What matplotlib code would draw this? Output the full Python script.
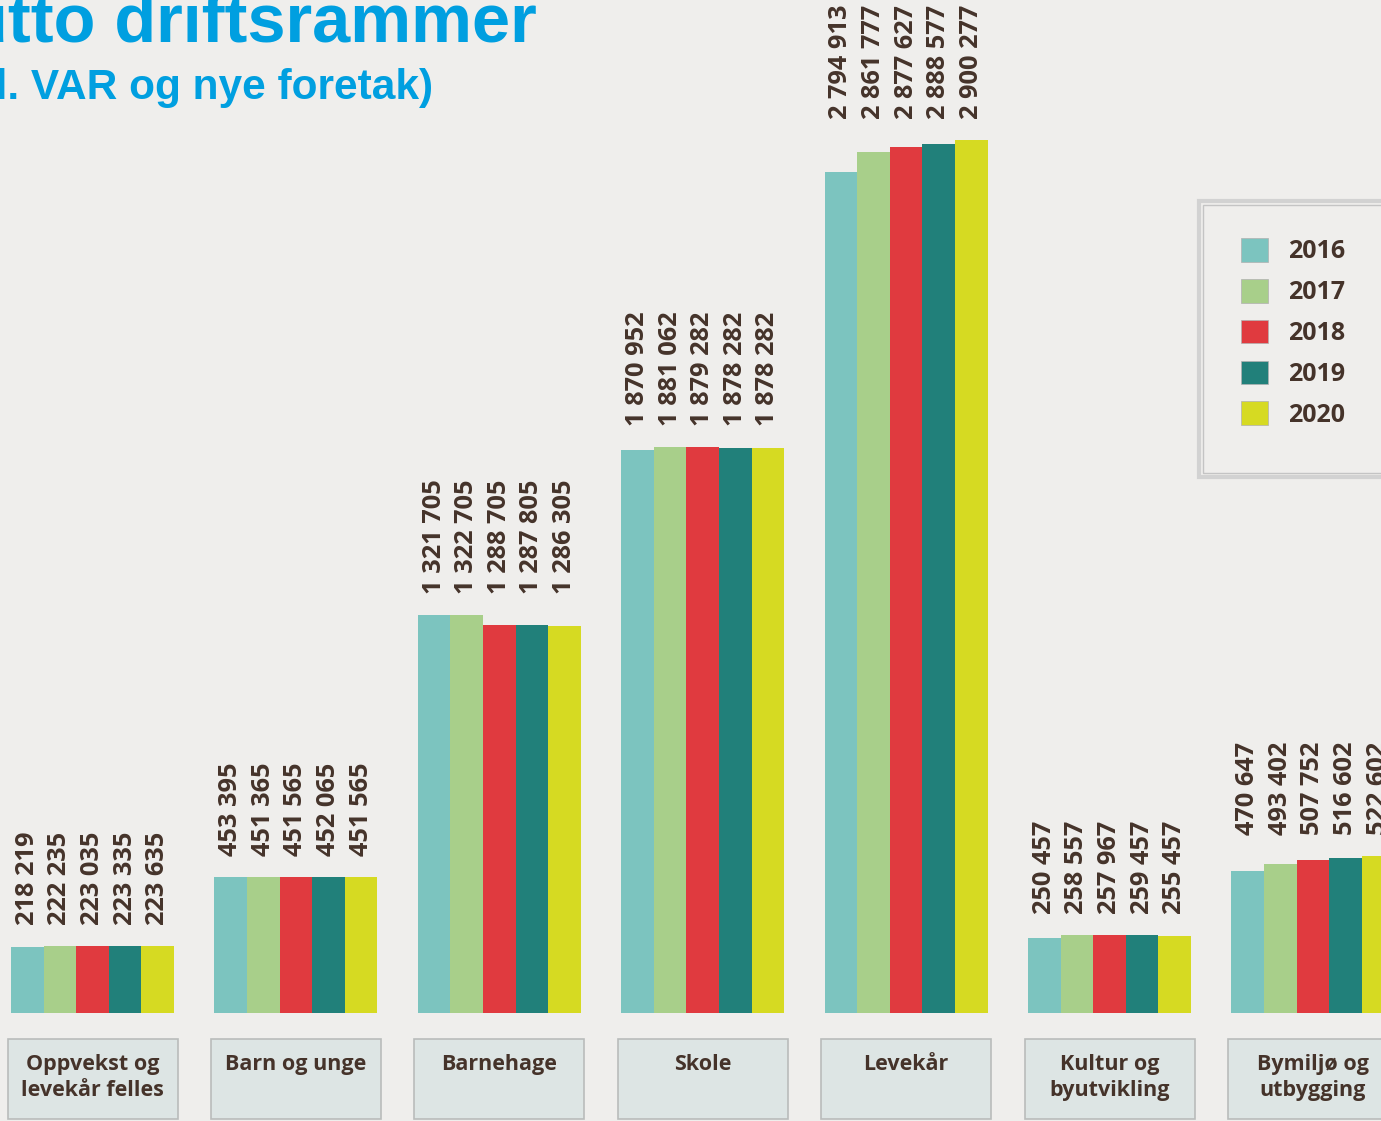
import matplotlib
matplotlib.use("Agg")
from matplotlib import pyplot as plt
from matplotlib.patches import Rectangle, Patch

# data (NOK 1000)
sectors = ["Oppvekst og\nlevekår felles", "Barn og unge", "Barnehage", "Skole",
           "Levekår", "Kultur og\nbyutvikling", "Bymiljø og\nutbygging"]
years = ["2016", "2017", "2018", "2019", "2020"]

v2016 = [218219, 453395, 1321705, 1870952, 2794913, 250457, 470647]
v2017 = [222235, 451365, 1322705, 1881062, 2861777, 258557, 493402]
v2018 = [223035, 451565, 1288705, 1879282, 2877627, 257967, 507752]
v2019 = [223335, 452065, 1287805, 1878282, 2888577, 259457, 516602]
v2020 = [223635, 451565, 1286305, 1878282, 2900277, 255457, 522602]
series = [v2016, v2017, v2018, v2019, v2020]

colors = ["#7cc4bf", "#a8cf8a", "#e03a3f", "#21807a", "#d6da22"]
bg = "#efeeec"
txt = "#45332a"
font = ["Open Sans", "DejaVu Sans"]

W, H = 1381, 1121
fig = plt.figure(figsize=(W / 100, H / 100), dpi=100, facecolor=bg)
ax = fig.add_axes([0, 0, 1, 1])
ax.set_facecolor(bg)

# pixel geometry of the original
step = 203.4          # px between group centres
c0 = 92.5             # px of first group centre
base = 1013           # px of baseline (from top)
k = 3.01e-4           # px per unit
ax.set_xlim(-c0 / step, (W - c0) / step)
ax.set_ylim(-(H - base) / k, base / k)
ax.axis("off")

bw = 32.6 / step
for j, vals in enumerate(series):
    xs = [i + (j - 2) * bw for i in range(len(sectors))]
    ax.bar(xs, vals, width=bw, color=colors[j], linewidth=0, label=years[j])

# value labels, all starting above the tallest bar in the group
for i in range(len(sectors)):
    top = max(s[i] for s in series)
    for j, vals in enumerate(series):
        lab = f"{vals[i]:,}".replace(",", " ")
        ax.text(i + (j - 2) * bw, top + 21 / k, lab, rotation=90,
                ha="center", va="bottom", fontsize=18.3, weight="bold",
                color=txt, family=font)

# category boxes
box_w = 170 / step
y_top = (base - 1039) / k
y_bot = (base - 1119) / k
for i, name in enumerate(sectors):
    ax.add_patch(Rectangle((i - box_w / 2, y_bot), box_w, y_top - y_bot,
                           facecolor="#dde5e4", edgecolor="#b9bcbb",
                           linewidth=1.2, clip_on=False))
    ax.text(i, (base - 1054) / k, name, ha="center", va="top",
            fontsize=15.5, weight="bold", color=txt, family=font,
            linespacing=1.32)

# title (cut off on the left in the original)
fig.text(537 / W, 1 - 41 / H, "Brutto driftsrammer", ha="right", va="baseline",
         fontsize=49.3, weight="bold", color="#009fe0", family="Liberation Sans")
fig.text(433 / W, 1 - 99 / H, "(inkl. VAR og nye foretak)", ha="right",
         va="baseline", fontsize=30.5, weight="bold", color="#009fe0",
         family="Liberation Sans")

# legend frame
fig.patches.append(Rectangle((1199 / W, 1 - 477 / H), 200 / W, 276 / H,
                             transform=fig.transFigure, facecolor=bg,
                             edgecolor="#d2d2d2", linewidth=3))
fig.patches.append(Rectangle((1203 / W, 1 - 473 / H), 200 / W, 268 / H,
                             transform=fig.transFigure, facecolor="none",
                             edgecolor="#c4c4c4", linewidth=1))

handles = [Patch(facecolor=c, edgecolor="#b0b0b0", linewidth=0.5) for c in colors]
leg = fig.legend(handles, years, loc="upper left",
                 bbox_to_anchor=(1241 / W, 1 - 238 / H), frameon=False,
                 borderpad=0, borderaxespad=0, handlelength=1.08,
                 handleheight=1.08, handletextpad=0.8, labelspacing=0.58,
                 prop={"family": font, "weight": "bold", "size": 18})
for t in leg.get_texts():
    t.set_color(txt)

plt.savefig("out.png", dpi=100, facecolor=bg)
